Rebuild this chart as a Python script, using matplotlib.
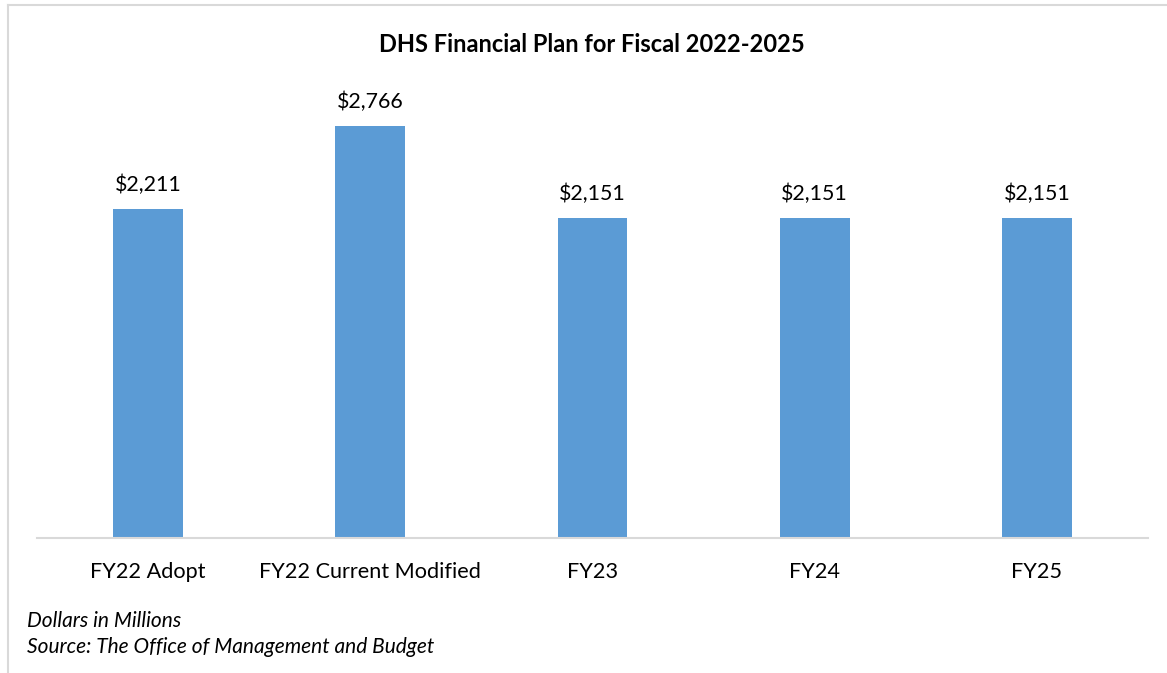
import matplotlib.pyplot as plt
from matplotlib.lines import Line2D

categories = ['FY22 Adopt', 'FY22 Current Modified', 'FY23', 'FY24', 'FY25']
values = [2211, 2766, 2151, 2151, 2151]

plt.rcParams['font.family'] = ['Lato', 'DejaVu Sans']

fig = plt.figure(figsize=(11.67, 6.73), dpi=100)
ax = fig.add_axes([37 / 1167, 1 - 538 / 673, 1111 / 1167, (538 - 90) / 673])

x = range(len(categories))
ax.bar(x, values, width=0.315, color='#5B9BD5', zorder=2)
for xi, v in zip(x, values):
    ax.text(xi, v + 95, '${:,}'.format(v), ha='center', va='bottom', fontsize=15.4, color='#000000')

ax.set_xlim(-0.5, len(categories) - 0.5)
ax.set_ylim(0, 3010)
ax.set_xticks(list(x))
ax.set_xticklabels(categories, fontsize=15.6)
ax.tick_params(axis='x', length=0, pad=17.5)
ax.set_yticks([])
for s in ['top', 'right', 'left']:
    ax.spines[s].set_visible(False)
ax.spines['bottom'].set_color('#D9D9D9')
ax.spines['bottom'].set_linewidth(1.5)

fig.text(592 / 1167, 1 - 44 / 673, 'DHS Financial Plan for Fiscal 2022-2025',
         ha='center', va='center', fontsize=17, fontweight='bold')
fig.text(27 / 1167, 1 - 621 / 673, 'Dollars in Millions', ha='left', va='center',
         fontsize=15, style='italic')
fig.text(27 / 1167, 1 - 647 / 673, 'Source: The Office of Management and Budget', ha='left',
         va='center', fontsize=15, style='italic')

# outer frame (left and top edges)
fig.add_artist(Line2D([7.5 / 1167, 7.5 / 1167], [0, 1 - 4.5 / 673], transform=fig.transFigure,
                      color='#D9D9D9', lw=1.5))
fig.add_artist(Line2D([7.5 / 1167, 1], [1 - 4.5 / 673, 1 - 4.5 / 673], transform=fig.transFigure,
                      color='#D9D9D9', lw=1.5))

fig.savefig('out.png', dpi=100)
